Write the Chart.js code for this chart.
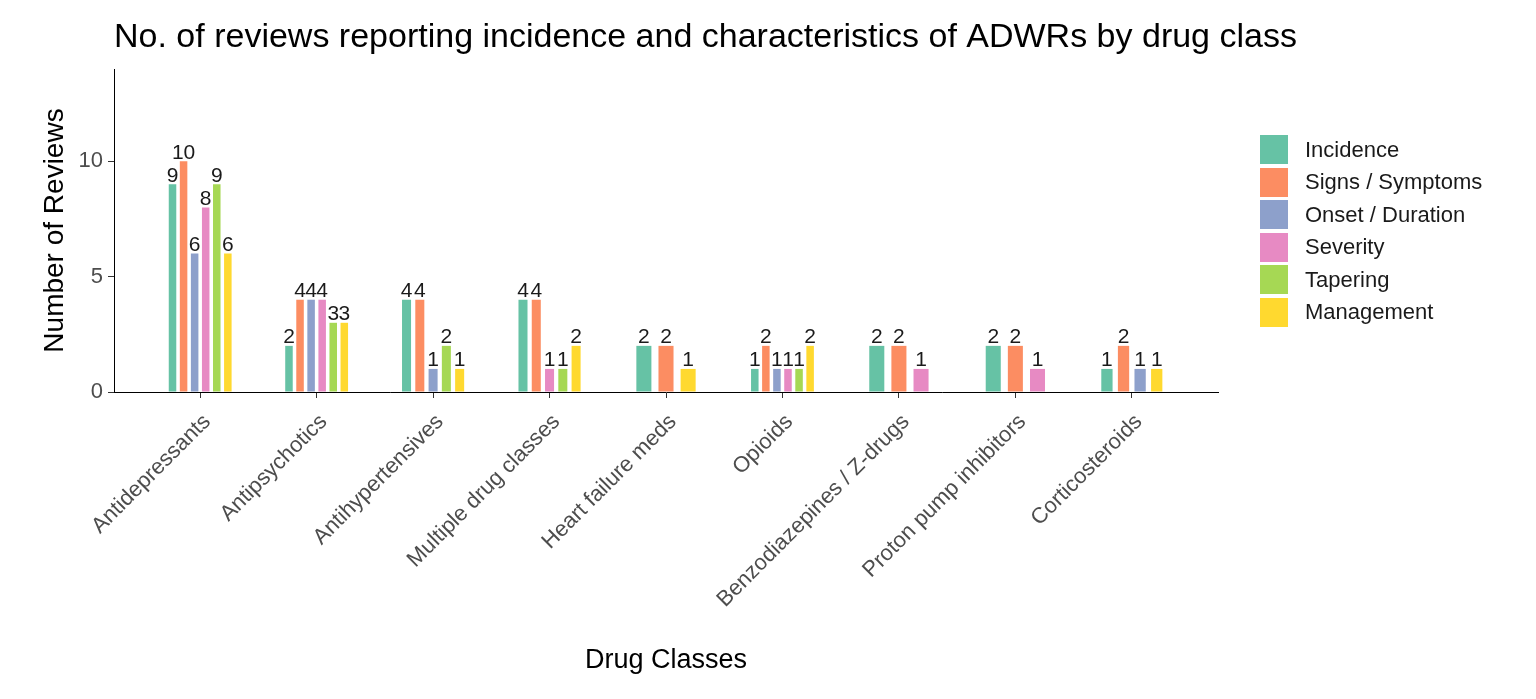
<!DOCTYPE html>
<html>
<head>
<meta charset="utf-8">
<script src="https://cdn.jsdelivr.net/npm/chart.js@4.4.1/dist/chart.umd.min.js"></script>
<style>
  body { margin: 0; background: #fff; }
  #wrap { position: relative; width: 1536px; height: 699px; }
  #legend { position: absolute; left: 1260px; top: 135px; font-family: "Liberation Sans", Arial, sans-serif; font-size: 22px; color: #1a1a1a; }
  .item { display: flex; align-items: center; height: 29px; margin-bottom: 3.5px; }
  .box { width: 28px; height: 29px; margin-right: 17px; }
</style>
</head>
<body>
<div id="wrap">
  <canvas id="adwrChart" width="1536" height="699"></canvas>
  <div id="legend"></div>
</div>
<script>
const chartTitle = 'No. of reviews reporting incidence and characteristics of ADWRs by drug class';
const drugClasses = ['Antidepressants', 'Antipsychotics', 'Antihypertensives', 'Multiple drug classes',
  'Heart failure meds', 'Opioids', 'Benzodiazepines / Z-drugs', 'Proton pump inhibitors', 'Corticosteroids'];
const seriesNames = ['Incidence', 'Signs / Symptoms', 'Onset / Duration', 'Severity', 'Tapering', 'Management'];
const incidence = [9, 2, 4, 4, 2, 1, 2, 2, 1];
const signsSymptoms = [10, 4, 4, 4, 2, 2, 2, 2, 2];
const onsetDuration = [6, 4, 1, null, null, 1, null, null, 1];
const severity = [8, 4, null, 1, null, 1, 1, 1, null];
const tapering = [9, 3, 2, 1, null, 1, null, null, null];
const management = [6, 3, 1, 2, 1, 2, null, null, 1];
const yTicks = [0, 5, 10];
const colors = ['#66C2A5', '#FC8D62', '#8DA0CB', '#E78AC3', '#A6D854', '#FFD92F'];

const seriesValues = [incidence, signsSymptoms, onsetDuration, severity, tapering, management];
const font = '"Liberation Sans", Arial, sans-serif';

// numbers above bars, plus the left-aligned title (the built-in one gets squeezed)
const barLabels = {
  id: 'barLabels',
  afterDatasetsDraw(chart) {
    const ctx = chart.ctx;
    ctx.save();
    ctx.font = '21px ' + font;
    ctx.fillStyle = '#1a1a1a';
    ctx.textAlign = 'center';
    ctx.textBaseline = 'bottom';
    chart.data.datasets.forEach((ds, i) => {
      const meta = chart.getDatasetMeta(i);
      meta.data.forEach((bar, j) => {
        const v = ds.data[j];
        if (v === null || v === undefined) return;
        ctx.fillText(String(v), bar.x, bar.y + 2);
      });
    });
    ctx.font = '34px ' + font;
    ctx.fillStyle = '#000';
    ctx.textAlign = 'left';
    ctx.textBaseline = 'alphabetic';
    ctx.fillText(chartTitle, chart.chartArea.left, 47);
    ctx.restore();
  }
};

document.addEventListener("DOMContentLoaded", function() {
    const ctx = document.getElementById('adwrChart').getContext('2d');
    new Chart(ctx, {
        type: 'bar',
        data: {
            labels: drugClasses,
            datasets: seriesNames.map((name, i) => ({
                label: name,
                data: seriesValues[i],
                backgroundColor: colors[i],
                borderWidth: 0,
                skipNull: true,
                categoryPercentage: 0.57,
                barPercentage: 0.68
            }))
        },
        options: {
            responsive: false,
            animation: false,
            devicePixelRatio: 1,
            layout: { padding: { left: 0, right: 318, top: 69, bottom: 0 } },
            scales: {
                x: {
                    offset: true,
                    afterBuildTicks(scale) {
                        // ggplot-like expansion at both ends
                        scale._startValue = -0.74;
                        scale._valueRange = drugClasses.length - 1 + 1.48;
                    },
                    afterFit(scale) { scale.height = 307; },
                    grid: { offset: false, drawOnChartArea: false, drawTicks: true, tickLength: 6, color: '#333' },
                    border: { display: true, color: '#000', width: 1 },
                    ticks: {
                        minRotation: 45, maxRotation: 45, autoSkip: false,
                        color: '#4d4d4d', padding: 11, labelOffset: 7,
                        font: { family: font, size: 22 }
                    },
                    title: {
                        display: true, text: 'Drug Classes', color: '#000',
                        font: { family: font, size: 27 },
                        padding: { top: 0, bottom: 22 }
                    }
                },
                y: {
                    min: 0,
                    max: 14,
                    afterBuildTicks(scale) { scale.ticks = yTicks.map(v => ({ value: v })); },
                    afterFit(scale) { scale.width = 114; },
                    grid: { drawOnChartArea: false, drawTicks: true, tickLength: 6, color: '#333' },
                    border: { display: true, color: '#000', width: 1 },
                    ticks: { color: '#4d4d4d', padding: 5, font: { family: font, size: 22 } },
                    title: {
                        display: true, text: 'Number of Reviews', color: '#000',
                        font: { family: font, size: 28 },
                        padding: { top: 38, bottom: 0 }
                    }
                }
            },
            plugins: {
                legend: { display: false },
                tooltip: { enabled: false },
                title: { display: false }
            }
        },
        plugins: [barLabels]
    });

    const legend = document.getElementById('legend');
    seriesNames.forEach((name, i) => {
        const item = document.createElement('div');
        item.className = 'item';
        item.innerHTML = '<div class="box" style="background:' + colors[i] + '"></div><span>' + name + '</span>';
        legend.appendChild(item);
    });
});
</script>
</body>
</html>
